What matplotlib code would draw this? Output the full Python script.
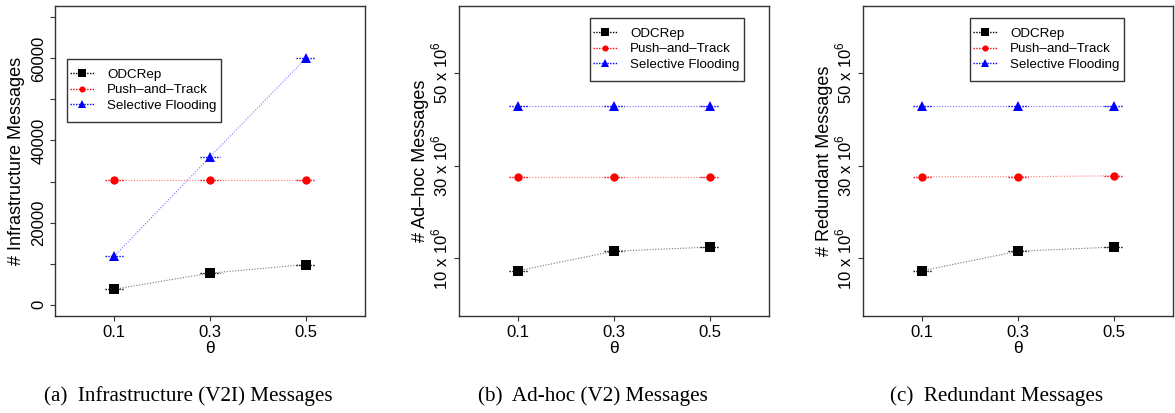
import matplotlib
matplotlib.use("Agg")
import matplotlib.pyplot as plt
from matplotlib.patches import Rectangle
from matplotlib.transforms import IdentityTransform

plt.rcParams['font.family'] = ['Liberation Sans', 'DejaVu Sans']
plt.rcParams['mathtext.fontset'] = 'custom'
plt.rcParams['mathtext.rm'] = 'Liberation Sans'

theta = [0.1, 0.3, 0.5]
series_names = ["ODCRep", "Push\u2013and\u2013Track", "Selective Flooding"]

# (a) Infrastructure messages
infra_odcrep = [3750, 7650, 9750]
infra_push = [30400, 30400, 30400]
infra_selective = [11800, 36000, 60000]

# (b) Ad-hoc messages
adhoc_odcrep = [7.3e6, 11.5e6, 12.4e6]
adhoc_push = [27.6e6, 27.6e6, 27.6e6]
adhoc_selective = [42.8e6, 42.8e6, 42.8e6]

# (c) Redundant messages
red_odcrep = [7.3e6, 11.5e6, 12.4e6]
red_push = [27.6e6, 27.6e6, 27.8e6]
red_selective = [42.9e6, 42.9e6, 42.9e6]

infra_ticks = [0, 10000, 20000, 30000, 40000, 50000, 60000, 70000]
infra_ticklabels = ["0", "", "20000", "", "40000", "", "60000", ""]
big_ticks = [10e6, 30e6, 50e6]
big_ticklabels = ["10 x $10^6$", "30 x $10^6$", "50 x $10^6$"]

ylabels = ["# Infrastructure Messages", "# Ad\u2013hoc Messages", "# Redundant Messages"]
captions = ["(a)  Infrastructure (V2I) Messages", "(b)  Ad-hoc (V2) Messages", "(c)  Redundant Messages"]

colors = ["black", "red", "blue"]
markers = ["s", "o", "^"]
msizes = [6.6, 6.0, 7.4]
leg_msizes = [5.2, 4.4, 5.4]

fig = plt.figure(figsize=(11.75, 4.13), dpi=100)
W, H = 1175, 413
lefts = [55, 459, 863]
ax_w = 310
ax_top, ax_bot = 6, 316

data = [
    (infra_odcrep, infra_push, infra_selective),
    (adhoc_odcrep, adhoc_push, adhoc_selective),
    (red_odcrep, red_push, red_selective),
]
# legend frame top-left in figure pixels (from top)
leg_px = [(67, 59), (590, 18), (970, 18)]
vpad = 6.5
cap_x = [188, 593, 997]

legends = []
for i in range(3):
    ax = fig.add_axes([lefts[i] / W, (H - ax_bot) / H, ax_w / W, (ax_bot - ax_top) / H])
    for j, ys in enumerate(data[i]):
        ax.plot(theta, ys, linestyle=(0, (1, 1.5)), linewidth=0.8, color=colors[j], alpha=0.55)
        eb = ax.errorbar(theta, ys, xerr=0.02, fmt='none', ecolor=colors[j], elinewidth=1.0)
        for lc in eb[2]:
            lc.set_linestyle((0, (1, 1)))
        ax.plot(theta, ys, linestyle='none', marker=markers[j], markersize=msizes[j],
                color=colors[j], markeredgewidth=0)
        ax.plot([], [], linestyle=(0, (1, 1)), linewidth=1.0, color=colors[j],
                marker=markers[j], markersize=leg_msizes[j], markeredgewidth=0,
                label=series_names[j])
    ax.set_xlim(-0.024, 0.624)
    ax.set_xticks(theta)
    ax.set_xticklabels(["0.1", "0.3", "0.5"])
    if i == 0:
        ax.set_ylim(-2800, 72800)
        ax.set_yticks(infra_ticks)
        ax.set_yticklabels(infra_ticklabels)
    else:
        ax.set_ylim(-2.5e6, 64.5e6)
        ax.set_yticks(big_ticks)
        ax.set_yticklabels(big_ticklabels)
    ax.tick_params(axis='both', labelsize=12, length=3.6, width=0.8, color='#333333')
    ax.tick_params(axis='y', labelrotation=90, pad=2.6)
    ax.tick_params(axis='x', pad=2.8)
    for lab in ax.get_yticklabels():
        lab.set_va('center')
    for s in ax.spines.values():
        s.set_linewidth(1.0)
        s.set_color('#333333')
    ax.set_xlabel("\u03b8", fontsize=12.5, labelpad=0.5)
    ax.set_ylabel(ylabels[i], fontsize=13, va='center')
    ax.yaxis.set_label_coords(-0.123, 0.5)
    lx, ly = leg_px[i]
    anchor = ((lx - lefts[i]) / ax_w, (ax_bot - ly - vpad) / (ax_bot - ax_top))
    leg = ax.legend(loc='upper left', bbox_to_anchor=anchor, borderaxespad=0,
                    fontsize=9.6, frameon=False,
                    handlelength=1.8, handletextpad=0.95, labelspacing=0.22,
                    borderpad=0.25)
    legends.append(leg)
    fig.text(cap_x[i] / W, (H - 396) / H, captions[i], ha='center', va='center',
             fontsize=15.2, family='Liberation Serif')

fig.canvas.draw()
for leg in legends:
    bb = leg.get_window_extent()
    rect = Rectangle((bb.x0, bb.y0 - vpad), bb.width + 1, bb.height + 2 * vpad,
                     transform=IdentityTransform(), fill=False,
                     edgecolor='#333333', linewidth=1.0)
    fig.add_artist(rect)

fig.savefig("out.png", dpi=100)
